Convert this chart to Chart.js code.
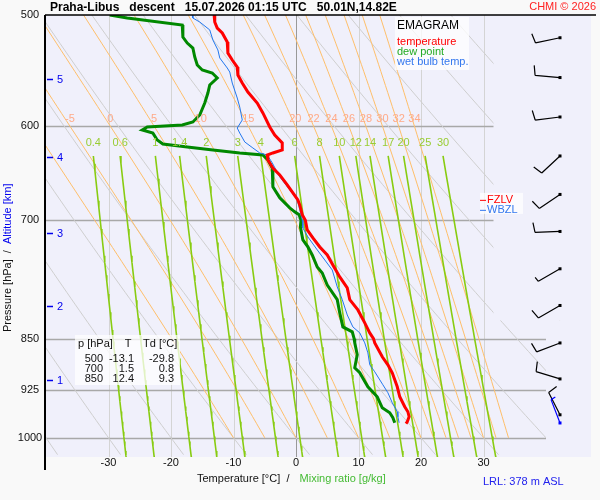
<!DOCTYPE html>
<html>
<head>
<meta charset="utf-8">
<script src="https://cdn.jsdelivr.net/npm/chart.js@4.4.0/dist/chart.umd.min.js"></script>
<style>
html, body { margin: 0; padding: 0; background: #f9f9f9; }
canvas { display: block; }
</style>
</head>
<body>
<canvas id="emagram" width="600" height="500"></canvas>
<script>
// sounding values (pressure in hPa, temperature in C)
var tempP = [500, 505.8, 510.8, 515, 522.6, 526.9, 532.1, 538.3, 544.5, 551.7, 559, 567.3, 577.6, 587.1, 600.8, 608.7, 616.7, 623.8, 626.9, 629, 634.1, 642.5, 649.9, 660.5, 669.3, 677, 682.6, 693.8, 700, 711.2, 720.6, 731.3, 741, 753.3, 768.2, 782.2, 797.3, 810.9, 828.3, 842, 850, 855.9, 875.7, 887.2, 898.9, 919.8, 935, 950.4, 958.2, 966.1, 974, 977];
var tempT = [-13.1, -13.0, -12.6, -11.8, -11.0, -10.9, -10.9, -10.2, -9.4, -9.3, -8.6, -7.7, -6.2, -5.3, -4.2, -3.4, -2.2, -2.2, -3.7, -4.6, -4.5, -3.7, -2.6, -1.4, -0.5, 0.3, 0.6, 1.0, 1.5, 1.8, 2.7, 3.8, 5.0, 5.9, 7.0, 8.2, 8.6, 9.9, 11.0, 11.8, 12.4, 12.6, 13.8, 14.7, 15.4, 16.2, 16.6, 17.4, 17.9, 18.1, 17.8, 17.6];

var dewP = [500, 502.5, 508.3, 509.9, 518.4, 523.5, 527.8, 535.6, 542.7, 547.2, 549.9, 554.4, 560.8, 568.2, 577.6, 589.1, 595.9, 598.8, 600.8, 603.7, 606.8, 613.7, 617.7, 620.8, 623.8, 626.9, 629, 634.1, 642.5, 662.7, 674.8, 685.9, 690.4, 693.8, 700, 707.7, 723, 731.3, 741, 755.8, 763.2, 778.4, 797.3, 814.9, 833.8, 840.6, 850, 855.9, 872.8, 891.6, 898.9, 919.8, 935, 952, 959.8, 967.7, 975.6];
var dewT = [-29.8, -27.0, -18.2, -18.1, -18.1, -17.4, -16.5, -16.2, -15.8, -15.0, -13.4, -12.6, -13.8, -14.1, -14.6, -15.4, -16.5, -18.2, -23.8, -24.6, -22.9, -22.2, -21.3, -17.4, -13.3, -9.0, -5.3, -4.5, -3.8, -3.7, -2.6, -1.0, -0.2, 0.5, 0.8, 0.7, 1.1, 1.9, 2.6, 3.4, 4.2, 5.0, 6.6, 7.0, 7.5, 9.0, 9.3, 9.4, 9.8, 9.4, 10.2, 11.5, 13.0, 13.8, 15.0, 15.5, 15.8];

var wetP = [500, 502.5, 505.8, 512.4, 520.9, 529.5, 536.5, 545.4, 549, 559, 572.9, 581.5, 593.9, 601.8, 606.8, 615.7, 621.8, 626.9, 629, 637.2, 652, 666, 677, 688.2, 699.6, 708.9, 719.4, 734.9, 747.1, 759.5, 780.9, 797.3, 817.6, 833.8, 842, 855.9, 870, 887.2, 897.5, 916.8, 928.8, 944.2, 958.2, 966.1, 975.6];
var wetT = [-16.6, -16.5, -15.4, -13.8, -13.3, -12.5, -12.2, -11.0, -10.6, -10.2, -9.4, -9.0, -8.6, -9.4, -9.0, -8.2, -6.9, -5.8, -4.6, -3.8, -2.6, -1.0, 0.2, 0.6, 1.0, 1.1, 1.9, 3.4, 4.6, 5.8, 6.6, 7.4, 8.2, 9.1, 10.2, 11.0, 11.5, 11.8, 12.6, 13.9, 14.7, 15.4, 16.2, 16.3, 16.5];

// wind barbs (every 0.5 km), direction in degrees, speed in kt
var windP = [519, 554, 591, 630, 671, 713, 758, 805, 856, 908, 963];
var windDir = [258, 275, 263, 227, 236, 268, 240, 240, 249, 287, 333];
var windKt = [10, 10, 10, 10, 10, 10, 5, 10, 10, 10, 10];
var sfcP = 976, sfcDir = 339, sfcKt = 5;

// axes
var pressureTicks = [500, 600, 700, 850, 925, 1000];
var tempTicks = [-30, -20, -10, 0, 10, 20, 30];
var altKm = [1, 2, 3, 4, 5];
var altP = [910, 806, 715, 631, 555];

// background line families
var mixRatios = [0.4, 0.6, 1, 1.4, 2, 3, 4, 6, 8, 10, 12, 14, 17, 20, 25, 30];
var thetaW = [-10, -5, 0, 5, 10, 15, 20, 22, 24, 26, 28, 30, 32, 34];
var thetaDry = [-40, -30, -20, -10, 0, 10, 20, 30, 40, 50, 60, 70, 80, 90, 100, 110];

// info table and levels
var tableP = [500, 700, 850];
var tableT = [-13.1, 1.5, 12.4];
var tableTd = [-29.8, 0.8, 9.3];
var fzlvP = 677;

var FONT = 'Liberation Sans, Arial, sans-serif';

function pairs(ps, ts) {
    return ps.map(function (p, i) { return { x: ts[i], y: p }; });
}

// thermodynamics for the reference lines
function esat(tc) { return 6.112 * Math.exp(17.67 * tc / (tc + 243.5)); }
function dewFromE(e) { var l = Math.log(e / 6.112); return 243.5 * l / (17.67 - l); }

function mixLine(w) {
    var pts = [];
    for (var p = 630; p < 1032; p += 8) {
        pts.push({ x: dewFromE(p * w / (622 + w)), y: p });
    }
    pts.push({ x: dewFromE(1032 * w / (622 + w)), y: 1032 });
    return pts;
}

function dryLine(th) {
    var pts = [];
    for (var p = 500; p <= 1032; p += 8) {
        pts.push({ x: (th + 273.15) * Math.pow(p / 1000, 0.2857) - 273.15, y: p });
    }
    return pts;
}

function lapse(t, p) {
    var es = esat(t - 273.15), rs = 0.622 * es / (p - es);
    var L = 2.501e6, Rd = 287.04, cp = 1005.7;
    return (Rd * t + L * rs) / (cp + L * L * rs * 0.622 / (Rd * t * t));
}

function moistLine(tw, pTop) {
    var pts = [{ x: tw, y: 1000 }];
    var t = tw + 273.15, p = 1000, steps = 60;
    var dl = Math.log(pTop / 1000) / steps;
    for (var i = 0; i < steps; i++) {
        var k1 = lapse(t, p);
        var k2 = lapse(t + k1 * dl / 2, p * Math.exp(dl / 2));
        t += k2 * dl;
        p = p * Math.exp(dl);
        pts.push({ x: t - 273.15, y: p });
    }
    return pts;
}

function refSet(data, color, width) {
    return { data: data, showLine: true, pointRadius: 0, borderColor: color, borderWidth: width, tension: 0, fill: false };
}

var datasets = [
    refSet(pairs(tempP, tempT), '#ff0000', 3),
    refSet(pairs(wetP, wetT), '#2277ee', 1),
    refSet(pairs(dewP, dewT), '#008800', 3)
];
mixRatios.forEach(function (w) { datasets.push(refSet(mixLine(w), '#88cc11', 1.6)); });
thetaW.forEach(function (tw) { datasets.push(refSet(moistLine(tw, 500), '#ffbf6a', 1)); });
thetaDry.forEach(function (th) { datasets.push(refSet(dryLine(th), '#cfcfcf', 1)); });

function drawBarb(ctx, x, y, dir, kt, color) {
    var a = dir * Math.PI / 180;
    var ux = Math.sin(a), uy = -Math.cos(a);
    var ex = x + ux * 25, ey = y + uy * 25;
    var r = 80 * Math.PI / 180;
    var bx = ux * Math.cos(r) - uy * Math.sin(r), by = ux * Math.sin(r) + uy * Math.cos(r);
    ctx.strokeStyle = color;
    ctx.fillStyle = color;
    ctx.lineWidth = 1.2;
    ctx.beginPath();
    ctx.moveTo(x, y);
    ctx.lineTo(ex, ey);
    var rest = kt, pos = 0;
    while (rest >= 10) {
        var sx = ex - ux * pos, sy = ey - uy * pos;
        ctx.moveTo(sx, sy);
        ctx.lineTo(sx + bx * 10, sy + by * 10);
        pos += 4;
        rest -= 10;
    }
    if (rest >= 5) {
        var hx = ex - ux * pos, hy = ey - uy * pos;
        ctx.moveTo(hx, hy);
        ctx.lineTo(hx + bx * 5, hy + by * 5);
    }
    ctx.stroke();
    ctx.fillRect(x - 1.5, y - 1.5, 3, 3);
}

var emagramPlugin = {
    id: 'emagram',
    beforeDraw: function (chart) {
        var ctx = chart.ctx, a = chart.chartArea;
        ctx.save();
        ctx.fillStyle = '#f9f9f9';
        ctx.fillRect(0, 0, chart.width, chart.height);
        ctx.fillStyle = '#f0f0fb';
        ctx.fillRect(a.left, a.top, a.right - a.left, a.bottom - a.top);
        ctx.restore();
    },
    beforeDatasetsDraw: function (chart) {
        var ctx = chart.ctx, a = chart.chartArea;
        var xs = chart.scales.x, ys = chart.scales.y;
        ctx.save();
        ctx.lineWidth = 1;
        tempTicks.forEach(function (t) {
            var x = Math.round(xs.getPixelForValue(t)) + 0.5;
            ctx.strokeStyle = t === 0 ? '#999999' : '#d4d4d4';
            ctx.beginPath();
            ctx.moveTo(x, a.top);
            ctx.lineTo(x, a.bottom);
            ctx.stroke();
        });
        ctx.strokeStyle = '#a8a8a8';
        ctx.lineWidth = 1.5;
        pressureTicks.forEach(function (p) {
            if (p === 500) return;
            var y = Math.round(ys.getPixelForValue(p)) + 0.5;
            ctx.beginPath();
            ctx.moveTo(a.left, y);
            ctx.lineTo(a.right, y);
            ctx.stroke();
        });
        ctx.restore();
    },
    afterDatasetsDraw: function (chart) {
        var ctx = chart.ctx, a = chart.chartArea;
        var xs = chart.scales.x, ys = chart.scales.y;
        ctx.save();
        // blank panel for the wind column
        ctx.fillStyle = '#f0f0fb';
        var xMid = xs.getPixelForValue(31.6), yMid = ys.getPixelForValue(825);
        var x40 = xs.getPixelForValue(40);
        ctx.fillRect(xMid, a.top, a.right - xMid, yMid - a.top);
        ctx.fillRect(x40, yMid, a.right - x40, a.bottom - yMid);

        // frame
        ctx.strokeStyle = '#000';
        ctx.lineWidth = 1.5;
        ctx.beginPath();
        ctx.moveTo(a.left - 1, a.top);
        ctx.lineTo(596, a.top);
        ctx.stroke();
        ctx.lineWidth = 2;
        ctx.beginPath();
        ctx.moveTo(a.left - 1, a.top);
        ctx.lineTo(a.left - 1, 470);
        ctx.stroke();

        // wind barbs
        var bxp = a.right - 31;
        windP.forEach(function (p, i) {
            drawBarb(ctx, bxp, ys.getPixelForValue(p), windDir[i], windKt[i], '#000000');
        });
        drawBarb(ctx, bxp, ys.getPixelForValue(sfcP), sfcDir, sfcKt, '#0000ff');

        ctx.textBaseline = 'middle';
        ctx.font = '11px ' + FONT;

        // moist adiabat labels on the 600 hPa line
        ctx.fillStyle = '#ffaa88';
        ctx.textAlign = 'center';
        var y600 = ys.getPixelForValue(600);
        thetaW.forEach(function (tw) {
            var line = moistLine(tw, 600);
            var x = xs.getPixelForValue(line[line.length - 1].x);
            if (x > a.left + 8) ctx.fillText(String(tw), x, y600 - 7);
        });

        // mixing ratio labels
        ctx.fillStyle = '#99cc33';
        var yMix = ys.getPixelForValue(630) - 13;
        mixRatios.forEach(function (w) {
            var x = xs.getPixelForValue(dewFromE(630 * w / (622 + w)));
            ctx.fillText(String(w), x, yMix);
        });

        // altitude ticks
        ctx.fillStyle = '#0000ee';
        ctx.strokeStyle = '#0000ee';
        ctx.lineWidth = 1.5;
        ctx.textAlign = 'left';
        altKm.forEach(function (km, i) {
            var y = Math.round(ys.getPixelForValue(altP[i])) + 0.5;
            ctx.beginPath();
            ctx.moveTo(a.left + 1, y);
            ctx.lineTo(a.left + 7, y);
            ctx.stroke();
            ctx.fillText(String(km), a.left + 11, y);
        });

        // pressure and temperature tick labels
        ctx.fillStyle = '#111';
        ctx.textAlign = 'center';
        pressureTicks.forEach(function (p) {
            ctx.fillText(String(p), 30, ys.getPixelForValue(p));
        });
        tempTicks.forEach(function (t) {
            ctx.fillText(String(t), xs.getPixelForValue(t), a.bottom + 6);
        });

        // axis titles
        ctx.textAlign = 'left';
        var s1 = 'Temperature [\u00b0C]  /  ';
        ctx.fillText(s1, 197, 479);
        ctx.fillStyle = '#44bb33';
        ctx.fillText('Mixing ratio [g/kg]', 197 + ctx.measureText(s1).width + 4, 479);
        ctx.fillStyle = '#2222ee';
        ctx.fillText('LRL: 378 m ASL', 483, 482);

        ctx.save();
        ctx.translate(8, 332);
        ctx.rotate(-Math.PI / 2);
        var s2 = 'Pressure [hPa]  /  ';
        ctx.fillStyle = '#111';
        ctx.fillText(s2, 0, 0);
        ctx.fillStyle = '#0000ee';
        ctx.fillText('Altitude [km]', ctx.measureText(s2).width, 0);
        ctx.restore();

        // title
        ctx.fillStyle = '#000';
        ctx.font = 'bold 12px ' + FONT;
        ctx.fillText('Praha-Libus   descent   15.07.2026 01:15 UTC   50.01N,14.82E', 50, 8);
        ctx.font = '11px ' + FONT;
        ctx.fillStyle = '#ff2222';
        ctx.textAlign = 'right';
        ctx.fillText('CHMI \u00a9 2026', 596, 7);

        // legend box
        ctx.textAlign = 'left';
        ctx.fillStyle = 'rgba(255,255,255,0.75)';
        ctx.fillRect(395, 17, 74, 53);
        ctx.font = '12px ' + FONT;
        ctx.fillStyle = '#000';
        ctx.fillText('EMAGRAM', 397, 26);
        ctx.font = '11px ' + FONT;
        ctx.fillStyle = '#ff0000';
        ctx.fillText('temperature', 397, 42);
        ctx.fillStyle = '#22aa22';
        ctx.fillText('dew point', 397, 52);
        ctx.fillStyle = '#3377ee';
        ctx.fillText('wet bulb temp.', 397, 62);

        // freezing level marks
        var yF = ys.getPixelForValue(fzlvP);
        ctx.fillStyle = 'rgba(255,255,255,0.75)';
        ctx.fillRect(480, yF - 7, 43, 21);
        ctx.lineWidth = 1;
        ctx.strokeStyle = '#ff0000';
        ctx.beginPath(); ctx.moveTo(480, yF + 0.5); ctx.lineTo(486, yF + 0.5); ctx.stroke();
        ctx.fillStyle = '#ff0000';
        ctx.fillText('FZLV', 487, yF);
        ctx.strokeStyle = '#3377ee';
        ctx.beginPath(); ctx.moveTo(480, yF + 10.5); ctx.lineTo(486, yF + 10.5); ctx.stroke();
        ctx.fillStyle = '#3377ee';
        ctx.fillText('WBZL', 487, yF + 10);

        // info table
        ctx.fillStyle = 'rgba(255,255,255,0.75)';
        ctx.fillRect(75, 335, 105, 50);
        ctx.fillStyle = '#111';
        ctx.fillText('p [hPa]', 78, 344);
        ctx.textAlign = 'center';
        ctx.fillText('T', 128, 344);
        ctx.textAlign = 'left';
        ctx.fillText('Td [\u00b0C]', 143, 344);
        ctx.textAlign = 'right';
        tableP.forEach(function (p, i) {
            var y = 359 + i * 10;
            ctx.fillText(String(p), 103, y);
            ctx.fillText(tableT[i].toFixed(1), 134, y);
            ctx.fillText(tableTd[i].toFixed(1), 174, y);
        });
        ctx.restore();
    }
};

new Chart(document.getElementById('emagram'), {
    type: 'scatter',
    data: { datasets: datasets },
    options: {
        responsive: false,
        animation: false,
        devicePixelRatio: 1,
        layout: { padding: { left: 46, top: 15, right: 9, bottom: 43 } },
        scales: {
            x: { type: 'linear', min: -40, max: 47.2, display: false },
            y: { type: 'logarithmic', min: 500, max: 1032, reverse: true, display: false }
        },
        plugins: { legend: { display: false }, tooltip: { enabled: false } },
        events: []
    },
    plugins: [emagramPlugin]
});
</script>
</body>
</html>
